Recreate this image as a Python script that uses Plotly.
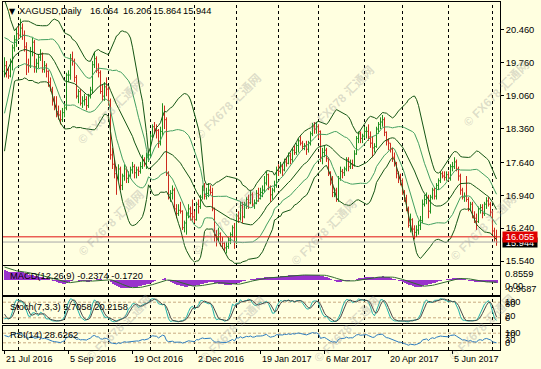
import numpy as np
import pandas as pd
import plotly.graph_objects as go

# ---------------- data ----------------
HOLIDAYS = ["2016-12-26", "2017-01-02", "2017-04-14", "2017-07-04"]
dates = [d for d in pd.bdate_range("2016-05-23", "2017-07-06")
         if d.strftime("%Y-%m-%d") not in HOLIDAYS]
FIRST_SHOWN = pd.Timestamp("2016-07-21")

open_ = [
    16.45, 16.37, 16.16, 16.30, 16.36, 16.15, 16.13, 15.95, 16.00, 16.05,
    16.34, 16.36, 16.45, 17.05, 17.12, 17.35, 17.47, 17.50, 17.42, 17.50,
    17.42, 17.45, 17.32, 17.40, 17.45, 17.75, 17.98, 18.05, 18.45, 18.68,
    19.60, 19.80, 19.65, 20.10, 19.75, 19.85, 20.15, 20.25, 20.30, 20.28,
    20.18, 20.05, 19.68,
    19.58, 19.70, 19.60, 19.48, 19.78, 20.08, 20.25, 20.38, 20.35, 20.50,
    20.35, 20.10, 19.72, 19.70, 20.00, 20.20, 19.68, 19.75, 19.88, 19.95,
    19.62, 19.70, 19.58, 19.35, 19.20, 18.95, 18.85, 18.72, 18.65, 18.55,
    18.70, 18.80, 19.50, 19.50, 19.85, 19.80, 19.45, 19.05, 19.15, 18.90,
    18.95, 18.98, 18.85, 19.05, 19.18, 19.72, 19.85, 19.60, 19.55, 19.15,
    19.05, 19.25, 19.20, 18.95, 17.80, 17.60, 17.40, 17.30, 17.50, 17.15,
    17.35, 17.50, 17.30, 17.35, 17.48, 17.55, 17.42, 17.48, 17.45, 17.55,
    17.70, 17.62, 17.75, 17.80, 18.20, 18.40, 18.35, 18.32, 18.05, 18.30,
    18.65, 18.55, 17.40, 16.95, 16.98, 17.05, 16.65, 16.55, 16.62, 16.60,
    16.25, 16.35, 16.52, 16.65, 16.55, 16.48, 16.42, 16.75, 16.70, 16.90,
    17.05, 16.92, 16.98, 17.05, 17.00, 16.65, 16.10, 16.05, 16.12, 15.95,
    15.92, 15.82, 15.85, 15.98, 16.10, 16.25, 15.95, 16.50, 16.45, 16.72,
    16.48, 16.75, 16.85, 16.78, 16.95, 16.75, 16.78, 16.98, 16.95, 17.00,
    17.05, 17.20, 17.38, 17.10, 16.95, 17.05, 17.15, 17.48, 17.45, 17.55,
    17.48, 17.65, 17.62, 17.78, 17.70, 17.90, 17.85, 18.00, 18.10, 18.05,
    17.98, 18.00, 17.92, 18.05, 18.25, 18.40, 18.35, 18.40, 18.30, 17.75,
    17.85, 17.90, 17.72, 17.40, 17.20, 17.00, 17.05, 16.85, 17.30, 17.45,
    17.42, 17.50, 17.70, 17.55, 17.60, 17.58, 17.82, 18.15, 18.25, 18.15,
    18.20, 18.30, 18.30, 18.18, 18.05, 17.95, 17.98, 18.35, 18.45, 18.50,
    18.55, 18.28, 18.10, 18.05, 17.92, 17.75, 17.62, 17.40, 17.30, 17.25,
    17.00, 16.88, 16.65, 16.30, 16.42, 16.22, 16.15, 16.20, 16.30, 16.40,
    16.75, 16.85, 16.90, 16.60, 16.90, 17.05, 16.92, 17.15, 17.25, 17.40,
    17.35, 17.32, 17.38, 17.30, 17.55, 17.55, 17.65, 17.50, 17.35, 17.05,
    16.90, 16.92, 16.85, 16.65, 16.75, 16.50, 16.45, 16.38, 16.65, 16.68,
    16.55, 16.75, 16.82, 16.75, 16.58, 16.18, 16.064,
]
high = [
    16.55, 16.40, 16.40, 16.50, 16.40, 16.25, 16.20, 16.10, 16.15, 16.40,
    16.45, 16.55, 17.10, 17.25, 17.45, 17.55, 17.60, 17.55, 17.75, 17.60,
    17.55, 17.50, 17.50, 17.55, 18.00, 18.05, 18.15, 18.50, 18.75, 19.70,
    21.10, 20.10, 20.25, 20.20, 20.00, 20.25, 20.35, 20.45, 20.40, 20.35,
    20.25, 20.10, 19.75,
    19.88, 19.80, 19.65, 19.85, 20.15, 20.35, 20.50, 20.55, 20.70, 20.60,
    20.45, 20.20, 19.85, 20.10, 20.30, 20.25, 19.85, 19.95, 20.05, 19.98,
    19.80, 19.75, 19.60, 19.45, 19.25, 19.05, 19.05, 18.85, 18.75, 18.80,
    18.90, 19.55, 19.60, 19.95, 20.00, 19.85, 19.50, 19.20, 19.20, 19.05,
    19.10, 19.05, 19.10, 19.25, 19.80, 20.00, 19.90, 19.75, 19.60, 19.30,
    19.35, 19.45, 19.25, 19.00, 17.95, 17.70, 17.55, 17.60, 17.55, 17.40,
    17.60, 17.55, 17.45, 17.55, 17.65, 17.60, 17.55, 17.55, 17.65, 17.80,
    17.75, 17.85, 17.85, 18.25, 18.45, 18.50, 18.45, 18.35, 18.40, 18.90,
    18.85, 18.60, 17.45, 17.05, 17.15, 17.10, 16.75, 16.75, 16.80, 16.62,
    16.40, 16.60, 16.75, 16.70, 16.85, 16.60, 16.80, 16.85, 16.95, 17.15,
    17.20, 17.10, 17.20, 17.15, 17.10, 16.68, 16.20, 16.25, 16.15, 16.05,
    15.95, 15.95, 16.05, 16.15, 16.30, 16.35, 16.55, 16.60, 16.80, 16.80,
    16.80, 16.90, 16.95, 17.05, 17.00, 16.85, 17.05, 17.10, 17.10, 17.15,
    17.35, 17.45, 17.40, 17.15, 17.10, 17.25, 17.55, 17.60, 17.65, 17.60,
    17.72, 17.75, 17.85, 17.85, 17.95, 18.00, 18.05, 18.15, 18.20, 18.10,
    18.05, 18.10, 18.10, 18.30, 18.48, 18.50, 18.50, 18.45, 18.32, 17.95,
    18.00, 17.95, 17.75, 17.45, 17.35, 17.10, 17.10, 17.35, 17.55, 17.50,
    17.55, 17.75, 17.75, 17.70, 17.70, 17.90, 18.20, 18.30, 18.30, 18.25,
    18.40, 18.40, 18.45, 18.30, 18.20, 18.05, 18.40, 18.50, 18.60, 18.65,
    18.60, 18.30, 18.15, 18.05, 17.95, 17.85, 17.65, 17.45, 17.40, 17.30,
    17.05, 16.95, 16.70, 16.55, 16.45, 16.30, 16.30, 16.40, 16.50, 16.85,
    16.95, 17.00, 16.95, 16.95, 17.10, 17.10, 17.20, 17.30, 17.45, 17.45,
    17.45, 17.45, 17.45, 17.60, 17.65, 17.75, 17.70, 17.55, 17.40, 17.10,
    17.00, 17.35, 16.90, 16.80, 16.80, 16.60, 16.55, 16.70, 16.75, 16.75,
    16.80, 16.90, 16.90, 16.80, 16.62, 16.25, 16.206,
]
low = [
    16.30, 16.05, 16.10, 16.25, 16.05, 16.05, 15.85, 15.80, 15.90, 15.95,
    16.25, 16.30, 16.40, 16.95, 17.05, 17.25, 17.35, 17.30, 17.20, 17.35,
    17.35, 17.20, 17.25, 17.30, 17.40, 17.65, 17.85, 18.00, 18.35, 18.60,
    19.55, 19.45, 19.50, 19.65, 19.30, 19.80, 20.00, 20.15, 20.10, 20.05,
    19.95, 19.60, 19.45,
    19.45, 19.45, 19.42, 19.45, 19.60, 20.00, 20.10, 20.25, 20.30, 20.25,
    20.00, 19.50, 19.55, 19.65, 19.90, 19.55, 19.55, 19.65, 19.80, 19.55,
    19.55, 19.45, 19.25, 19.15, 18.85, 18.75, 18.60, 18.55, 18.45, 18.50,
    18.60, 18.75, 19.35, 19.40, 19.70, 19.35, 19.00, 18.90, 18.85, 18.80,
    18.85, 18.75, 18.80, 19.00, 19.10, 19.65, 19.55, 19.45, 19.10, 18.95,
    18.95, 19.05, 18.85, 17.70, 17.50, 17.30, 16.95, 17.25, 17.05, 17.05,
    17.25, 17.20, 17.20, 17.30, 17.40, 17.30, 17.30, 17.35, 17.40, 17.50,
    17.55, 17.50, 17.65, 17.75, 18.15, 18.25, 18.15, 17.95, 18.00, 18.20,
    18.35, 17.35, 16.85, 16.80, 16.85, 16.60, 16.45, 16.50, 16.55, 16.20,
    16.15, 16.10, 16.45, 16.40, 16.40, 16.35, 16.40, 16.55, 16.65, 16.85,
    16.85, 16.85, 16.90, 16.95, 16.60, 15.95, 15.85, 15.95, 15.85, 15.80,
    15.75, 15.70, 15.80, 15.90, 16.05, 15.80, 15.90, 16.35, 16.40, 16.35,
    16.45, 16.65, 16.65, 16.75, 16.70, 16.65, 16.75, 16.80, 16.85, 16.90,
    17.00, 17.15, 17.05, 16.80, 16.85, 17.00, 17.10, 17.35, 17.40, 17.35,
    17.45, 17.55, 17.60, 17.60, 17.65, 17.80, 17.80, 17.85, 18.00, 17.90,
    17.90, 17.80, 17.85, 18.00, 18.20, 18.25, 18.25, 18.15, 17.65, 17.60,
    17.75, 17.65, 17.35, 17.15, 16.90, 16.90, 16.80, 16.80, 17.25, 17.30,
    17.35, 17.45, 17.45, 17.50, 17.50, 17.55, 17.80, 18.05, 18.05, 18.05,
    18.15, 18.15, 18.10, 17.95, 17.75, 17.85, 17.95, 18.25, 18.35, 18.40,
    18.20, 18.00, 17.90, 17.85, 17.65, 17.55, 17.30, 17.20, 17.15, 16.95,
    16.80, 16.60, 16.25, 16.15, 16.15, 16.00, 16.05, 16.10, 16.20, 16.35,
    16.70, 16.75, 16.45, 16.55, 16.85, 16.85, 16.85, 17.05, 17.20, 17.30,
    17.25, 17.25, 17.25, 17.25, 17.45, 17.50, 17.45, 17.25, 16.95, 16.85,
    16.80, 16.80, 16.60, 16.60, 16.45, 16.35, 16.20, 16.35, 16.55, 16.45,
    16.50, 16.65, 16.70, 16.50, 16.10, 15.95, 15.864,
]
close = [
    16.37, 16.16, 16.30, 16.36, 16.15, 16.13, 15.95, 16.00, 16.05, 16.34,
    16.36, 16.45, 17.05, 17.12, 17.35, 17.47, 17.50, 17.42, 17.50, 17.42,
    17.45, 17.32, 17.40, 17.45, 17.75, 17.98, 18.05, 18.45, 18.68, 19.60,
    19.80, 19.65, 20.10, 19.75, 19.85, 20.15, 20.25, 20.30, 20.28, 20.18,
    20.05, 19.68, 19.58,
    19.70, 19.60, 19.48, 19.78, 20.08, 20.25, 20.38, 20.35, 20.50, 20.35,
    20.10, 19.72, 19.70, 20.00, 20.20, 19.68, 19.75, 19.88, 19.95, 19.62,
    19.70, 19.58, 19.35, 19.20, 18.95, 18.85, 18.72, 18.65, 18.55, 18.70,
    18.80, 19.50, 19.50, 19.85, 19.80, 19.45, 19.05, 19.15, 18.90, 18.95,
    18.98, 18.85, 19.05, 19.18, 19.72, 19.85, 19.60, 19.55, 19.15, 19.05,
    19.25, 19.20, 18.95, 17.80, 17.60, 17.40, 17.30, 17.50, 17.15, 17.35,
    17.50, 17.30, 17.35, 17.48, 17.55, 17.42, 17.48, 17.45, 17.55, 17.70,
    17.62, 17.75, 17.80, 18.20, 18.40, 18.35, 18.32, 18.05, 18.30, 18.65,
    18.55, 17.40, 16.95, 16.98, 17.05, 16.65, 16.55, 16.62, 16.60, 16.25,
    16.35, 16.52, 16.65, 16.55, 16.48, 16.42, 16.75, 16.70, 16.90, 17.05,
    16.92, 16.98, 17.05, 17.00, 16.65, 16.10, 16.05, 16.12, 15.95, 15.92,
    15.82, 15.85, 15.98, 16.10, 16.25, 15.95, 16.50, 16.45, 16.72, 16.48,
    16.75, 16.85, 16.78, 16.95, 16.75, 16.78, 16.98, 16.95, 17.00, 17.05,
    17.20, 17.38, 17.10, 16.95, 17.05, 17.15, 17.48, 17.45, 17.55, 17.48,
    17.65, 17.62, 17.78, 17.70, 17.90, 17.85, 18.00, 18.10, 18.05, 17.98,
    18.00, 17.92, 18.05, 18.25, 18.40, 18.35, 18.40, 18.30, 17.75, 17.85,
    17.90, 17.72, 17.40, 17.20, 17.00, 17.05, 16.85, 17.30, 17.45, 17.42,
    17.50, 17.70, 17.55, 17.60, 17.58, 17.82, 18.15, 18.25, 18.15, 18.20,
    18.30, 18.30, 18.18, 18.05, 17.95, 17.98, 18.35, 18.45, 18.50, 18.55,
    18.28, 18.10, 18.05, 17.92, 17.75, 17.62, 17.40, 17.30, 17.25, 17.00,
    16.88, 16.65, 16.30, 16.42, 16.22, 16.15, 16.20, 16.30, 16.40, 16.75,
    16.85, 16.90, 16.60, 16.90, 17.05, 16.92, 17.15, 17.25, 17.40, 17.35,
    17.32, 17.38, 17.30, 17.55, 17.55, 17.65, 17.50, 17.35, 17.05, 16.90,
    16.92, 16.85, 16.65, 16.75, 16.50, 16.45, 16.38, 16.65, 16.68, 16.55,
    16.75, 16.82, 16.75, 16.58, 16.18, 16.064, 15.944,
]

price_ticks = [20.46, 19.76, 19.06, 18.36, 17.64, 16.94, 16.24, 15.54]
price_tick_text = ["20.460", "19.760", "19.060", "18.360",
                   "17.640", "16.940", "16.240", "15.540"]
price_range = [15.455, 21.056]
macd_range = [-0.9687, 0.8559]
alert_level = 16.055
bid_level = 15.944
macd_labels = [("0.8559", 274), ("0.00", 286), ("-0.9687", 289)]
stoch_labels = [("100", 302), ("80", 304), ("20", 316), ("0", 318)]
rsi_labels = [("100", 333), ("70", 335), ("30", 340), ("0", 343)]
stoch_levels = [20, 80]
rsi_levels = [30, 70]

# ---------------- indicators ----------------
s = pd.Series(close, dtype=float)
hs = pd.Series(high, dtype=float)
ls = pd.Series(low, dtype=float)
mid = s.rolling(20).mean()
sd = s.rolling(20).std(ddof=0)
ema12 = s.ewm(span=12, adjust=False).mean()
ema26 = s.ewm(span=26, adjust=False).mean()
macd = ema12 - ema26
sig = macd.rolling(9).mean()
hh = hs.rolling(7).max()
ll = ls.rolling(7).min()
stk = (s - ll).rolling(3).sum() / (hh - ll).rolling(3).sum() * 100
std_ = stk.rolling(3).mean()
delta = s.diff()
au = delta.clip(lower=0).ewm(alpha=1 / 14, adjust=False).mean()
ad = (-delta.clip(upper=0)).ewm(alpha=1 / 14, adjust=False).mean()
rsi = 100 - 100 / (1 + au / ad)

w = [i for i, d in enumerate(dates) if d >= FIRST_SHOWN][0]
n = len(dates) - w
xs = np.arange(n)
sl = slice(w, None)
shown = dates[w:]

def cut(a):
    return np.asarray(a)[sl]

# ---------------- styling ----------------
BG = "#FFFFE0"
UP = "#1f8f1f"
DN = "#cc2a1e"
DARK = "#145514"
LIGHT = "#43a060"
PURPLE = "#9932cc"
FONT = "Liberation Sans, Noto Sans CJK SC, sans-serif"

W, H = 541, 369
PL, PR, PT, PB = 3, 500, 2, 350

def dom(top, bot):
    return [(PB - bot) / (PB - PT), (PB - top) / (PB - PT)]

def ypaper(ypx):
    return (PB - ypx) / (PB - PT)

XR = [-0.75, 247.75]

fig = go.Figure()
fig.add_trace(go.Ohlc(
    x=xs, open=cut(open_), high=cut(high), low=cut(low), close=cut(close),
    increasing=dict(line=dict(color=UP, width=1)),
    decreasing=dict(line=dict(color=DN, width=1)),
    tickwidth=0.5, hoverinfo="skip", xaxis="x", yaxis="y"))
for ser, col in [(mid + 2 * sd, DARK), (mid + sd, LIGHT), (mid, DARK),
                 (mid - sd, LIGHT), (mid - 2 * sd, DARK)]:
    fig.add_trace(go.Scatter(x=xs, y=cut(ser), mode="lines",
                             line=dict(color=col, width=1),
                             hoverinfo="skip", xaxis="x", yaxis="y"))
fig.add_trace(go.Bar(x=xs, y=cut(macd), width=1.0,
                     marker=dict(color=PURPLE, line=dict(width=0)),
                     hoverinfo="skip", xaxis="x2", yaxis="y2"))
fig.add_trace(go.Scatter(x=xs, y=cut(sig), mode="lines",
                         line=dict(color="#2e6b2e", width=1),
                         hoverinfo="skip", xaxis="x2", yaxis="y2"))
fig.add_trace(go.Scatter(x=xs, y=cut(stk), mode="lines",
                         line=dict(color="#20b2aa", width=1),
                         hoverinfo="skip", xaxis="x3", yaxis="y3"))
fig.add_trace(go.Scatter(x=xs, y=cut(std_), mode="lines",
                         line=dict(color="#4a4a4a", width=1),
                         hoverinfo="skip", xaxis="x3", yaxis="y3"))
fig.add_trace(go.Scatter(x=xs, y=cut(rsi), mode="lines",
                         line=dict(color="#2b7bbf", width=1),
                         hoverinfo="skip", xaxis="x4", yaxis="y4"))

ax = dict(showline=True, mirror=True, linecolor="black", linewidth=1,
          showgrid=False, zeroline=False, fixedrange=True)

label_idx = list(range(0, n, 32))
label_txt = [f"{shown[i].day} {shown[i].strftime('%b %Y')}" for i in label_idx]
month_idx = [i for i in range(1, n) if shown[i].month != shown[i - 1].month]

layout = dict(
    width=W, height=H, margin=dict(l=PL, r=W - PR, t=PT, b=H - PB),
    paper_bgcolor=BG, plot_bgcolor=BG, showlegend=False,
    font=dict(family=FONT, size=9.3, color="black"),
    xaxis=dict(domain=[0, 1], anchor="y", range=XR, showticklabels=False,
               ticks="", rangeslider=dict(visible=False), **ax),
    xaxis2=dict(domain=[0, 1], anchor="y2", range=XR, matches="x",
                showticklabels=False, ticks="", **ax),
    xaxis3=dict(domain=[0, 1], anchor="y3", range=XR, matches="x",
                showticklabels=False, ticks="", **ax),
    xaxis4=dict(domain=[0, 1], anchor="y4", range=XR, matches="x",
                showticklabels=False, ticks="outside", ticklen=3,
                tickcolor="black", tickmode="array", tickvals=label_idx, **ax),
    yaxis=dict(domain=dom(2, 265), anchor="x", range=price_range, side="right",
               tickmode="array", tickvals=price_ticks, ticktext=price_tick_text,
               ticks="outside", ticklen=3, tickcolor="black",
               tickfont=dict(family=FONT, size=9.3, color="black"), **ax),
    yaxis2=dict(domain=dom(266, 295), anchor="x2", range=macd_range,
                side="right", showticklabels=False, ticks="", **ax),
    yaxis3=dict(domain=dom(297, 323), anchor="x3", range=[0, 100],
                side="right", showticklabels=False, ticks="", **ax),
    yaxis4=dict(domain=dom(326, 350), anchor="x4", range=[0, 100],
                side="right", showticklabels=False, ticks="", **ax),
    bargap=0,
)
fig.update_layout(**layout)

shapes = []
for i in month_idx:
    shapes.append(dict(type="line", xref="x", yref="paper", x0=i, x1=i,
                       y0=0, y1=1, layer="below",
                       line=dict(color="black", width=1, dash="3px,3px")))
for v in stoch_levels:
    shapes.append(dict(type="line", xref="paper", yref="y3", x0=0, x1=1,
                       y0=v, y1=v, layer="below",
                       line=dict(color="#c8aa80", width=1, dash="3px,2px")))
for v in rsi_levels:
    shapes.append(dict(type="line", xref="paper", yref="y4", x0=0, x1=1,
                       y0=v, y1=v, layer="below",
                       line=dict(color="#c8aa80", width=1, dash="3px,2px")))
shapes.append(dict(type="line", xref="paper", yref="y", x0=0, x1=1,
                   y0=bid_level, y1=bid_level,
                   line=dict(color="#a8a8a8", width=1)))
shapes.append(dict(type="line", xref="paper", yref="y", x0=0, x1=1,
                   y0=alert_level, y1=alert_level,
                   line=dict(color="#e01010", width=1)))
fig.update_layout(shapes=shapes)

ann = []
# watermarks
wm_centers = [(72, 72), (228, 68), (380, 60), (535, 55),
              (72, 222), (224, 222), (362, 232), (522, 228),
              (80, 366), (232, 368), (385, 368), (520, 366)]
for (cx, cy) in wm_centers:
    ann.append(dict(x=(cx - PL) / (PR - PL), y=ypaper(cy), xref="paper",
                    yref="paper", text="<b>© FX678 汇通网</b>", showarrow=False,
                    textangle=-45, font=dict(family=FONT, size=12,
                                             color="rgba(150,150,150,0.33)")))
# title
ann.append(dict(x=0, y=1, xref="paper", yref="paper", xanchor="left",
                yanchor="top", xshift=4, yshift=-3, text="▼", showarrow=False,
                font=dict(family="DejaVu Sans", size=8, color="black")))
ann.append(dict(x=0, y=1, xref="paper", yref="paper", xanchor="left",
                yanchor="top", xshift=14, yshift=-2, text="XAGUSD,Daily",
                showarrow=False, font=dict(family=FONT, size=9.3)))
last_vals = [open_[-1], high[-1], low[-1], close[-1]]
for v, xpx in zip(last_vals, [89, 122, 152, 182]):
    ann.append(dict(x=0, y=1, xref="paper", yref="paper", xanchor="left",
                    yanchor="top", xshift=xpx - PL - 1, yshift=-2,
                    text=f"{v:.3f}", showarrow=False,
                    font=dict(family=FONT, size=9.3)))
# sub-window titles
for txt, top, ysh in [("MACD(12,26,9) -0.2374 -0.1720", 266, -3),
                      ("Stoch(7,3,3) 5.7058 20.2158", 297, -3),
                      ("RSI(14) 28.6262", 326, -2)]:
    ann.append(dict(x=0, y=ypaper(top), xref="paper", yref="paper",
                    xanchor="left", yanchor="top", xshift=5, yshift=ysh,
                    text=txt, showarrow=False, font=dict(family=FONT, size=9.3)))
# sub-window scale labels
for lst in (macd_labels, stoch_labels, rsi_labels):
    for txt, ypx in lst:
        ann.append(dict(x=1, y=ypaper(ypx), xref="paper", yref="paper",
                        xanchor="left", yanchor="middle", xshift=3,
                        text=txt, showarrow=False,
                        font=dict(family=FONT, size=9.3)))
# date labels
for i, t in zip(label_idx, label_txt):
    ann.append(dict(x=i, y=0, xref="x4", yref="paper", xanchor="left",
                    yanchor="top", xshift=-1, yshift=-2, text=t,
                    showarrow=False, font=dict(family=FONT, size=9)))
# current price boxes
ann.append(dict(x=1, y=bid_level, xref="paper", yref="y", xanchor="left",
                yanchor="middle", xshift=2, text=f"{bid_level:.3f}",
                showarrow=False, bgcolor="black", width=34, height=9,
                borderpad=0, font=dict(family=FONT, size=9.3, color="white")))
ann.append(dict(x=1, y=alert_level, xref="paper", yref="y", xanchor="left",
                yanchor="middle", xshift=2, text=f"{alert_level:.3f}",
                showarrow=False, bgcolor="#e00000", width=34, height=10,
                borderpad=0, font=dict(family=FONT, size=9.3, color="white")))
fig.update_layout(annotations=ann)

fig.write_html("out.html", include_plotlyjs=True,
               config={"displayModeBar": False, "staticPlot": True},
               post_script="document.body.style.margin='0';")
